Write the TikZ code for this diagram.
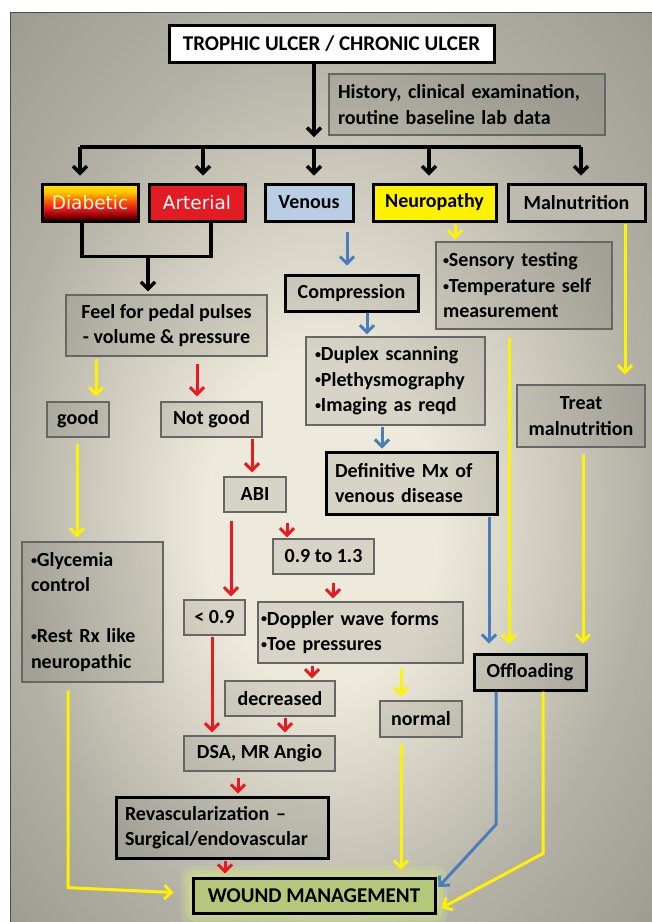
\documentclass[tikz,border=0pt]{standalone}
\usepackage{fontspec}
\usepackage{graphicx}
\setmainfont{Carlito}
\newfontfamily\catfont{DejaVu Sans}
\usetikzlibrary{positioning}
\usetikzlibrary{arrows.meta}
\usetikzlibrary{calc}

\definecolor{bgin}{HTML}{EDEADB}
\definecolor{bgout}{HTML}{B3B1A5}
\definecolor{ylw}{HTML}{FFF200}
\definecolor{rd}{HTML}{E8191F}
\definecolor{bl}{HTML}{4A7EBB}
\definecolor{venblue}{HTML}{B9CDE5}
\definecolor{artred}{HTML}{E31B23}
\definecolor{maln}{HTML}{BDBBB0}
\definecolor{woundgreen}{HTML}{B5C77A}
\definecolor{glow}{HTML}{CCDD8E}
\pgfdeclareradialshading{panelshade}{\pgfpoint{-1bp}{-4bp}}{color(0bp)=(bgin); color(9bp)=(bgin); color(25bp)=(bgout); color(38bp)=(bgout!85!black)}
\pgfdeclareverticalshading{diabshade}{100bp}{color(0bp)=(black!85!red); color(25bp)=(black!85!red); color(32bp)=(red!55!black); color(42bp)=(artred); color(52bp)=(orange!70!red); color(64bp)=(orange!45!yellow); color(75bp)=(yellow!80!orange); color(100bp)=(yellow!80!orange)}
\newcommand{\bul}{\raisebox{0.12em}{\scalebox{0.6}{\textbullet}}}

\begin{document}
\begin{tikzpicture}[x=1pt, y=-1pt, >={Straight Barb[length=7pt,width=14pt]},
  every node/.style={font=\fontsize{20}{25.5}\selectfont\bfseries, inner sep=0pt},
  thinbox/.style={rectangle, draw=black!60, line width=1.3pt, fill=black, fill opacity=0.09, text opacity=1},
  thickbox/.style={thinbox, draw=black, line width=3pt},
  catbox/.style={rectangle, draw=black, line width=3pt, minimum height=37pt},
  blkline/.style={line width=3.4pt, draw=black},
  blk/.style={->, blkline},
  yarr/.style={->, line width=3pt, color=ylw},
  rarr/.style={->, line width=3pt, color=rd},
  barr/.style={->, line width=3pt, color=bl}]

  % page and panel
  \fill[white] (0,0) rectangle (652,922);
  \useasboundingbox (0,0) rectangle (652,922);
  \path[shading=panelshade, draw=black!70, line width=0.8pt] (10,12) rectangle (653,923);

  % top
  \node[thickbox, fill=white, fill opacity=1, minimum width=325pt, minimum height=37pt, font=\fontsize{21}{25}\selectfont\bfseries] (trophic) at (331.5,43.5) {TROPHIC ULCER / CHRONIC ULCER};
  \node[thinbox, minimum width=276pt, minimum height=61pt, text width=258pt, align=left] (hist) at (467,104.5) {History, clinical examination,\\routine baseline lab data};
  \coordinate (barl) at (80,147);
  \coordinate (barm) at (314,147);
  \coordinate (barr) at (581,147);

  % categories
  \node[catbox, shading=diabshade, minimum width=96pt, text=white!85!yellow, font=\fontsize{18.5}{22}\selectfont\catfont] (diab) at (90,202.5) {Diabetic};
  \node[catbox, fill=artred, minimum width=96pt, text=white, font=\fontsize{18.5}{22}\selectfont\catfont] (art) at (197,202.5) {Arterial};
  \node[catbox, fill=venblue, minimum width=88pt] (ven) at (309,202.5) {Venous};
  \node[catbox, fill=yellow, minimum width=123pt] (neuro) at (434.5,202.5) {Neuropathy};
  \node[catbox, fill=maln, minimum width=137pt] (maln) at (576.5,202.5) {Malnutrition};

  % arterial / diabetic branch
  \coordinate (join) at (148,255);
  \node[thinbox, minimum width=201pt, minimum height=61pt, align=center] (feel) at (166.5,325.5) {Feel for pedal pulses\\- volume \& pressure};
  \node[thinbox, minimum width=62pt, minimum height=35pt] (good) at (78,419.5) {good};
  \node[thinbox, minimum width=101pt, minimum height=35pt] (notgood) at (211.5,419.5) {Not good};
  \node[thinbox, minimum width=62pt, minimum height=35pt] (abi) at (255,494.5) {ABI};
  \node[thinbox, minimum width=101pt, minimum height=35pt] (r13) at (323.5,556.5) {0.9 to 1.3};
  \node[thinbox, minimum width=61pt, minimum height=35pt] (lt09) at (214.5,617.5) {< 0.9};
  \node[thinbox, minimum width=205pt, minimum height=61pt, text width=199pt, align=left] (doppler) at (360.5,632.5) {\bul Doppler wave forms\\\bul Toe pressures};
  \node[thinbox, minimum width=141pt, minimum height=140pt, text width=123pt, align=left] (glyc) at (92.5,612) {\bul Glycemia\\control\\[25.5pt]\bul Rest Rx like\\neuropathic};
  \node[thinbox, minimum width=110pt, minimum height=35pt] (decr) at (280,698.5) {decreased};
  \node[thinbox, minimum width=82pt, minimum height=36pt] (normal) at (421,719) {normal};
  \node[thinbox, minimum width=151pt, minimum height=35pt] (dsa) at (259.5,753.5) {DSA, MR Angio};
  \node[thickbox, minimum width=212pt, minimum height=61pt, text width=194pt, align=left] (revasc) at (222,827.5) {Revascularization --\\Surgical/endovascular};

  % venous / neuropathy / malnutrition branch
  \node[thickbox, minimum width=133pt, minimum height=36pt] (comp) at (351.5,293) {Compression};
  \node[thinbox, minimum width=179pt, minimum height=88pt, text width=161pt, align=left] (duplex) at (395.5,381) {\bul Duplex scanning\\\bul Plethysmography\\\bul Imaging as reqd};
  \node[thickbox, minimum width=171pt, minimum height=62pt, text width=153pt, align=left] (defin) at (411.5,483) {Definitive Mx of\\venous disease};
  \node[thinbox, minimum width=176pt, minimum height=87pt, text width=162pt, align=left] (sensory) at (524,285.5) {\bul Sensory testing\\\bul Temperature self\\measurement};
  \node[thinbox, minimum width=128pt, minimum height=62pt, align=center] (treat) at (581,416) {Treat\\malnutrition};
  \node[thickbox, minimum width=112pt, minimum height=36pt] (offl) at (530,672) {Offloading};

  % wound management with glow
  \foreach \g/\o in {24/0.3, 16/0.4, 8/0.55}
    \node[fill=glow, opacity=\o, rounded corners=10pt, minimum width=242pt+\g pt, minimum height=35pt+\g pt] at (314,895.5) {};
  \node[rectangle, draw=black, line width=3pt, fill=woundgreen, minimum width=242pt, minimum height=35pt, font=\fontsize{21}{25}\selectfont\bfseries] (wound) at (314,895.5) {WOUND MANAGEMENT};

  % black connectors
  \draw[blk, shorten >=10pt] ([xshift=-17.5]trophic.south) -- (barm);
  \draw[blkline] (barl) -- (barr);
  \foreach \n/\s in {diab/-10, art/6, ven/5, neuro/-5.5, maln/4.5}
    \draw[blk, shorten >=7pt] ([xshift=\s]\n.north |- barl) -- ([xshift=\s]\n.north);
  \draw[blkline] ([xshift=-8]diab.south) -- ++(0,34) -| ([xshift=14]art.south);
  \draw[blk, shorten >=3pt] (join) -- ([xshift=-18.5]feel.north);

  % red connectors
  \path[rarr]
    ([xshift=30.5]feel.south) edge[shorten <=7pt, shorten >=5pt] ([xshift=30.5]feel.south |- notgood.north)
    ([xshift=40.5]notgood.south) edge[shorten <=1pt, shorten >=4pt] ([xshift=40.5]notgood.south |- abi.north)
    ([xshift=-24]abi.south) edge[shorten <=8pt, shorten >=3pt] ([xshift=-24]abi.south |- lt09.north)
    ([xshift=32]abi.south) edge[shorten <=10pt, shorten >=1pt] ([xshift=32]abi.south |- r13.north)
    ([xshift=9.5]r13.south) edge[shorten <=8pt, shorten >=3pt] ([xshift=9.5]r13.south |- doppler.north)
    ([xshift=-48.5]doppler.south) edge[shorten <=2pt, shorten >=2pt] ([xshift=-48.5]doppler.south |- decr.north)
    ([xshift=-2.5]lt09.south) edge[shorten <=1pt, shorten >=3pt] ([xshift=-2.5]lt09.south |- dsa.north)
    ([xshift=5]decr.south) edge[shorten <=1pt, shorten >=3pt] ([xshift=5]decr.south |- dsa.north)
    ([xshift=-21.5]dsa.south) edge[shorten <=6pt, shorten >=2pt] ([xshift=-21.5]dsa.south |- revasc.north)
    ([xshift=3]revasc.south) edge[shorten <=1pt, shorten >=3pt] ([xshift=3]revasc.south |- wound.north);

  % yellow connectors
  \path[yarr]
    ([xshift=-70.5]feel.south) edge[shorten <=2pt, shorten >=5pt] ([xshift=-70.5]feel.south |- good.north)
    ([xshift=-1]good.south) edge[shorten <=6pt, shorten >=4pt] ([xshift=-1]good.south |- glyc.north)
    ([xshift=40.5]doppler.south) edge[shorten <=5pt, shorten >=4pt] ([xshift=40.5]doppler.south |- normal.north)
    ([xshift=-20]normal.south) edge[shorten <=6pt, shorten >=7pt] ([xshift=-20]normal.south |- wound.north)
    ([xshift=20.5]neuro.south) edge[shorten <=1pt, shorten >=2pt] ([xshift=20.5]neuro.south |- sensory.north)
    ([xshift=48.5]maln.south) edge[shorten <=1pt, shorten >=10pt] ([xshift=48.5]maln.south |- treat.north)
    ([xshift=-15]sensory.south) edge[shorten <=8pt, shorten >=9pt] ([xshift=-15]sensory.south |- offl.north)
    ([xshift=2]treat.south) edge[shorten <=6pt, shorten >=9pt] ([xshift=2]treat.south |- offl.north);
  \draw[yarr, shorten <=8pt] ([xshift=-24.5]glyc.south) -- ++(0,205) -- ([xshift=-18,yshift=3]wound.west);
  \draw[yarr] ([xshift=13]offl.south) -- ++(0,162) -- ([xshift=5,yshift=-12.5]wound.east);

  % blue connectors
  \path[barr]
    ([xshift=38]ven.south) edge[shorten <=9pt, shorten >=8pt] ([xshift=38]ven.south |- comp.north)
    ([xshift=15.5]comp.south) edge[shorten >=2pt] ([xshift=15.5]comp.south |- duplex.north)
    ([xshift=-13.5]duplex.south) edge[shorten <=1pt, shorten >=2pt] ([xshift=-13.5]duplex.south |- defin.north)
    ([xshift=77.5]defin.south) edge[shorten <=1pt, shorten >=9pt] ([xshift=77.5]defin.south |- offl.north);
  \draw[barr] ([xshift=-34]offl.south) -- ++(0,133) -- ([xshift=2,yshift=8.5]wound.east);
\end{tikzpicture}
\end{document}
